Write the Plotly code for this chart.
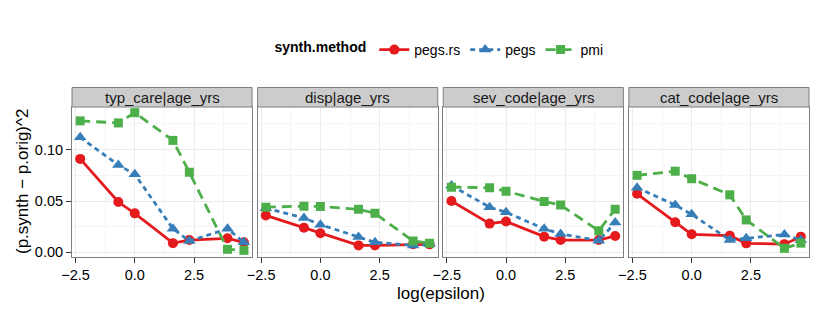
import numpy as np
import plotly.graph_objects as go
from plotly.subplots import make_subplots

epsilon = [0.1, 0.5, 1, 5, 10, 50, 100]
log_eps = list(np.log(epsilon))

panels = ["typ_care|age_yrs", "disp|age_yrs", "sev_code|age_yrs", "cat_code|age_yrs"]
methods = ["pegs.rs", "pegs", "pmi"]

pegs_rs = {
    "typ_care|age_yrs": [0.091, 0.049, 0.038, 0.009, 0.012, 0.0137, 0.0098],
    "disp|age_yrs":     [0.036, 0.024, 0.0186, 0.0068, 0.0068, 0.008, 0.0078],
    "sev_code|age_yrs": [0.050, 0.028, 0.030, 0.0153, 0.012, 0.012, 0.016],
    "cat_code|age_yrs": [0.057, 0.0293, 0.0176, 0.0163, 0.0088, 0.008, 0.0153],
}
pegs = {
    "typ_care|age_yrs": [0.112, 0.085, 0.076, 0.023, 0.011, 0.023, 0.0098],
    "disp|age_yrs":     [0.043, 0.0335, 0.027, 0.015, 0.0098, 0.0068, 0.0078],
    "sev_code|age_yrs": [0.065, 0.044, 0.039, 0.023, 0.018, 0.0114, 0.029],
    "cat_code|age_yrs": [0.063, 0.046, 0.037, 0.012, 0.0137, 0.0173, 0.012],
}
pmi = {
    "typ_care|age_yrs": [0.128, 0.126, 0.136, 0.109, 0.078, 0.003, 0.002],
    "disp|age_yrs":     [0.044, 0.045, 0.0446, 0.042, 0.038, 0.011, 0.009],
    "sev_code|age_yrs": [0.0635, 0.063, 0.0596, 0.0495, 0.046, 0.021, 0.042],
    "cat_code|age_yrs": [0.075, 0.079, 0.0717, 0.056, 0.0316, 0.004, 0.009],
}
series = {"pegs.rs": pegs_rs, "pegs": pegs, "pmi": pmi}

colors = {"pegs.rs": "#E41A1C", "pegs": "#377EB8", "pmi": "#4DAF4A"}
dashes = {"pegs.rs": "solid", "pegs": "5px,4px", "pmi": "10px,6px"}
symbols = {"pegs.rs": "circle", "pegs": "triangle-up", "pmi": "square"}
msizes = {"pegs.rs": 10, "pegs": 11, "pmi": 9}

FONT = "Liberation Sans, Arial, Helvetica, sans-serif"

fig = make_subplots(rows=1, cols=4, shared_yaxes=True, horizontal_spacing=0.0075)

for i, p in enumerate(panels):
    for m in methods:
        fig.add_trace(go.Scatter(
            x=log_eps, y=series[m][p], mode="lines+markers", name=m,
            legendgroup=m, showlegend=(i == 0),
            line=dict(color=colors[m], width=2.8, dash=dashes[m]),
            marker=dict(color=colors[m], symbol=symbols[m], size=msizes[m]),
        ), row=1, col=i + 1)

PH = 150.0
PW = 737.0
strip_h = 19.5 / PH
for i, p in enumerate(panels):
    xd = "x domain" if i == 0 else f"x{i+1} domain"
    fig.add_shape(type="rect", xref=xd, yref="paper", x0=0, x1=1, y0=1, y1=1 + strip_h,
                  fillcolor="#cccccc", line=dict(color="#7f7f7f", width=1))
    fig.add_annotation(xref=xd, yref="paper", x=0.5, y=1 + strip_h / 2, text=p,
                       showarrow=False, font=dict(family=FONT, size=15, color="#1a1a1a"),
                       xanchor="center", yanchor="middle")

for i in range(4):
    fig.update_xaxes(row=1, col=i + 1, range=[-2.648, 4.95],
                     tickvals=[-2.5, 0, 2.5], ticktext=["\u22122.5", "0.0", "2.5"],
                     showline=True, mirror=True, linecolor="#7f7f7f", linewidth=1,
                     ticks="outside", ticklen=5, tickcolor="#333333",
                     showgrid=True, gridcolor="#ebebeb", gridwidth=1,
                     minor=dict(tickvals=[-1.25, 1.25, 3.75], showgrid=True, gridcolor="#f5f5f5", gridwidth=1),
                     zeroline=False, automargin=False,
                     tickfont=dict(family=FONT, size=14.5, color="#000000"))
    fig.update_yaxes(row=1, col=i + 1, range=[-0.0045, 0.1415],
                     tickvals=[0, 0.05, 0.10], ticktext=["0.00", "0.05", "0.10"],
                     showline=True, mirror=True, linecolor="#7f7f7f", linewidth=1,
                     ticks="outside" if i == 0 else "", ticklen=5, tickcolor="#333333",
                     showgrid=True, gridcolor="#ebebeb", gridwidth=1,
                     minor=dict(tickvals=[0.025, 0.075, 0.125], showgrid=True, gridcolor="#f5f5f5", gridwidth=1),
                     zeroline=False, automargin=False,
                     tickfont=dict(family=FONT, size=14.5, color="#000000"))

fig.add_annotation(xref="paper", yref="paper", x=-50 / PW, y=0.5, text="(p.synth \u2212 p.orig)^2",
                   textangle=-90, showarrow=False, font=dict(family=FONT, size=17, color="#000000"),
                   xanchor="center", yanchor="middle")

fig.add_annotation(xref="paper", yref="paper", x=0.5, y=(257 - 293) / PH, text="log(epsilon)",
                   showarrow=False, font=dict(family=FONT, size=17, color="#000000"),
                   xanchor="center", yanchor="middle")

# page body has an 8px margin: figure coordinates are screen coordinates minus 8
fig.update_layout(
    width=822, height=296,
    margin=dict(l=64, r=21, t=99, b=47, autoexpand=False),
    paper_bgcolor="white", plot_bgcolor="white",
    font=dict(family=FONT, size=14, color="#000000"),
    legend=dict(orientation="h", x=0.5, xanchor="center", y=(257 - 50) / PH, yanchor="middle",
                title=dict(text="<b>synth.method</b>", font=dict(family=FONT, size=14)),
                font=dict(family=FONT, size=14), itemwidth=30, tracegroupgap=0),
)

fig.write_html("out.html")
